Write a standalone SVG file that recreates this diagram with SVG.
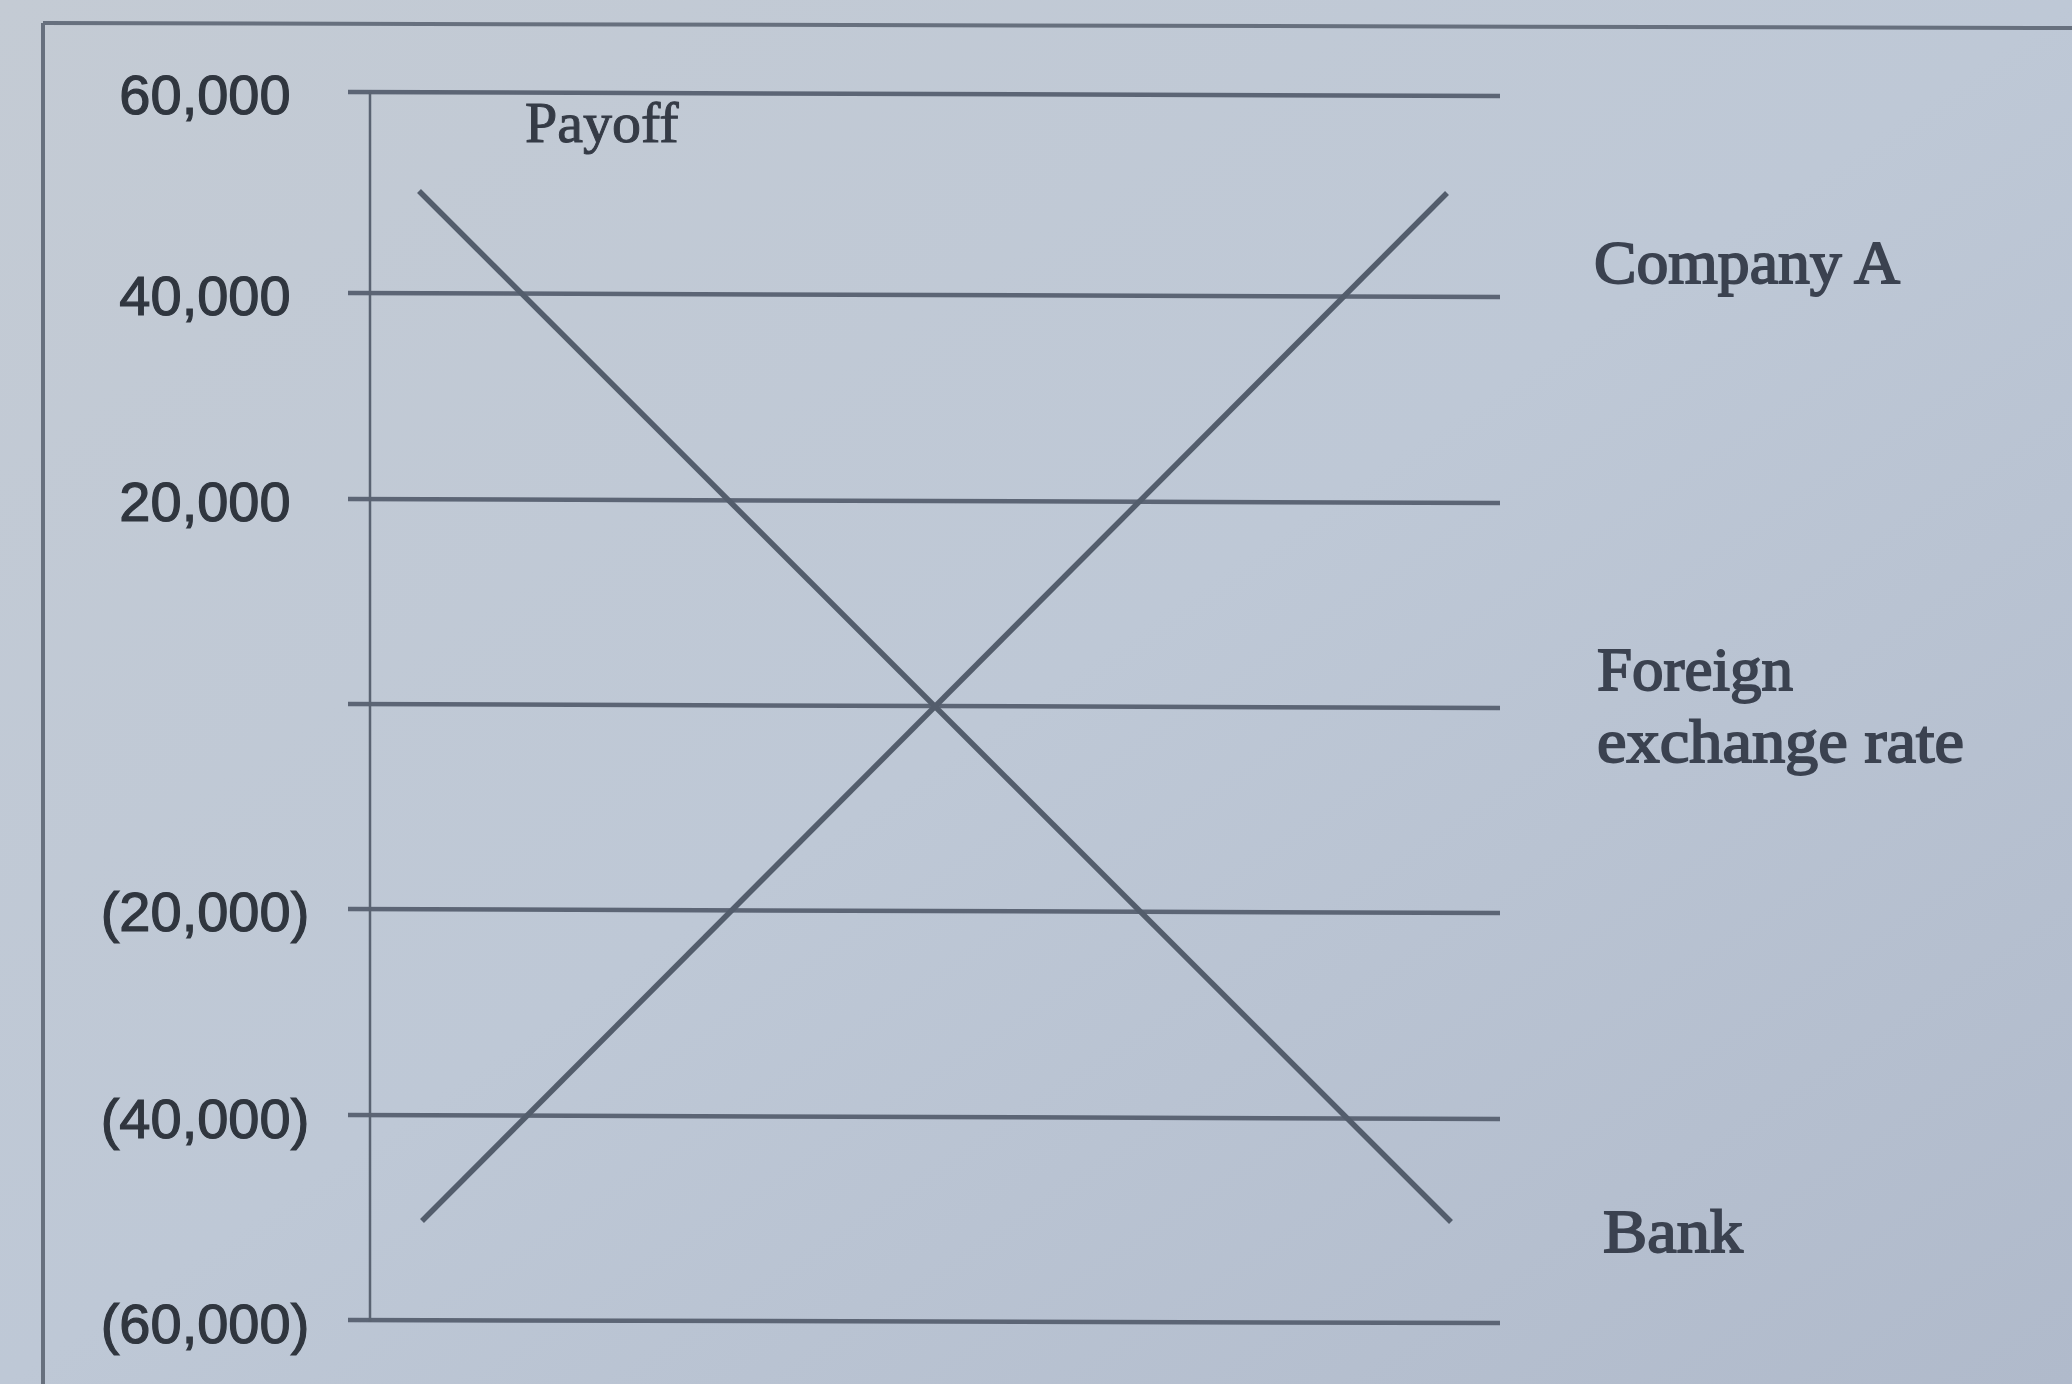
<svg xmlns="http://www.w3.org/2000/svg" width="2072" height="1384" viewBox="0 0 2072 1384">
  <defs>
    <linearGradient id="bg" x1="0" y1="0" x2="1" y2="1">
      <stop offset="0" stop-color="#c4cbd4"/>
      <stop offset="0.5" stop-color="#bec8d6"/>
      <stop offset="1" stop-color="#b0bacb"/>
    </linearGradient>
    <style>
      .grid { stroke: #5c6575; stroke-width: 4.5; fill: none; }
      .axis { stroke: #5a6372; stroke-width: 2.5; fill: none; }
      .border { stroke: #67707e; stroke-width: 4; fill: none; }
      .curve { stroke: #535d6c; stroke-width: 5.5; fill: none; stroke-linecap: butt; }
      .num { font-family: "Liberation Sans", Arial, sans-serif; font-size: 56px; fill: #30363f; stroke: #30363f; stroke-width: 1.2; text-anchor: middle; }
      .lbl { font-family: "Liberation Serif", "Times New Roman", serif; font-size: 62px; fill: #3b4250; stroke: #3b4250; stroke-width: 1.8; }
      .payoff { font-family: "Liberation Serif", "Times New Roman", serif; font-size: 58px; fill: #353b46; stroke: #353b46; stroke-width: 1; }
    </style>
  </defs>

  <rect x="0" y="0" width="2072" height="1384" fill="url(#bg)"/>

  <g id="frame">
    <line class="border" x1="43" y1="23" x2="2072" y2="28"/>
    <line class="border" x1="43" y1="23" x2="43" y2="1384"/>
  </g>

  <g id="grid">
    <line class="grid" x1="348" y1="92" x2="1500" y2="96"/>
    <line class="grid" x1="348" y1="293" x2="1500" y2="297"/>
    <line class="grid" x1="348" y1="499" x2="1500" y2="503"/>
    <line class="grid" x1="348" y1="704" x2="1500" y2="708"/>
    <line class="grid" x1="348" y1="909" x2="1500" y2="913"/>
    <line class="grid" x1="348" y1="1115" x2="1500" y2="1119"/>
    <line class="grid" x1="348" y1="1320" x2="1500" y2="1323"/>
    <line class="axis" x1="370" y1="92" x2="370" y2="1322"/>
  </g>

  <g id="y-labels">
    <text class="num" x="205" y="114">60,000</text>
    <text class="num" x="205" y="315">40,000</text>
    <text class="num" x="205" y="521">20,000</text>
    <text class="num" x="205" y="931">(20,000)</text>
    <text class="num" x="205" y="1138">(40,000)</text>
    <text class="num" x="205" y="1343">(60,000)</text>
  </g>

  <g id="axis-title">
    <text class="payoff" x="525" y="142">Payoff</text>
  </g>

  <g id="connectors">
    <line id="bank-line" class="curve" x1="419" y1="191" x2="1451" y2="1222"/>
    <line id="company-line" class="curve" x1="422" y1="1221" x2="1447" y2="193"/>
  </g>

  <g id="company-a">
    <text class="lbl" x="1594" y="283" textLength="306" lengthAdjust="spacingAndGlyphs">Company A</text>
  </g>
  <g id="fx-rate">
    <text class="lbl" x="1597" y="690" textLength="196" lengthAdjust="spacingAndGlyphs">Foreign</text>
    <text class="lbl" x="1597" y="762" textLength="367" lengthAdjust="spacingAndGlyphs">exchange rate</text>
  </g>
  <g id="bank">
    <text class="lbl" x="1603" y="1252" textLength="140" lengthAdjust="spacingAndGlyphs">Bank</text>
  </g>
</svg>
